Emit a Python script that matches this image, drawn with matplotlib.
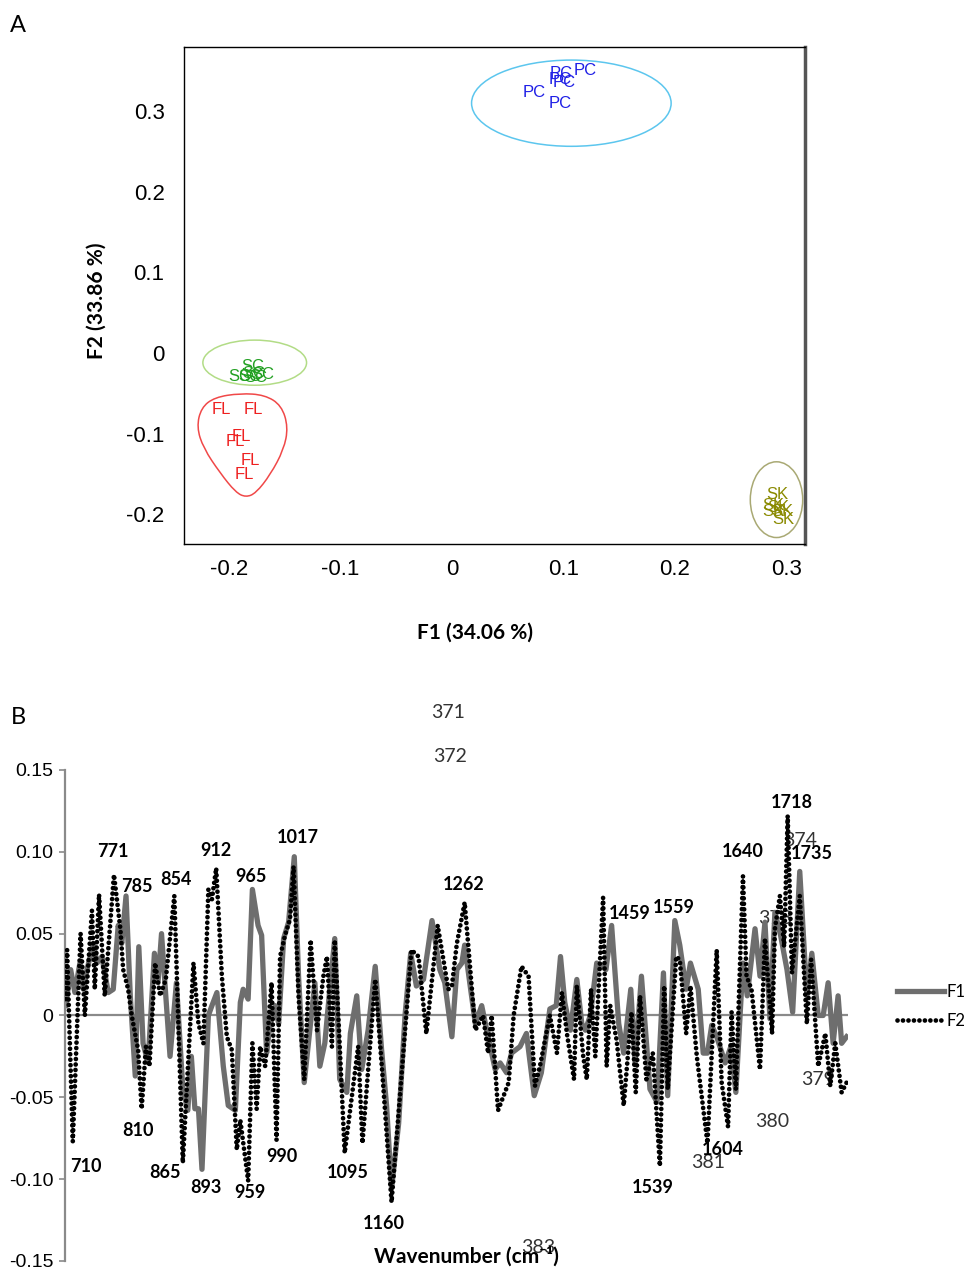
import numpy as np
import matplotlib
matplotlib.use("Agg")
import matplotlib.pyplot as plt
from matplotlib.patches import Ellipse, PathPatch
from matplotlib.path import Path

plt.rcParams['axes.unicode_minus'] = False

# ---------- panel A: PCA scores ----------
pc_x = [0.074, 0.097, 0.119, 0.098, 0.101, 0.097]
pc_y = [0.323, 0.309, 0.350, 0.347, 0.336, 0.340]
sc_x = [-0.179, -0.190, -0.170, -0.181, -0.176, -0.178]
sc_y = [-0.017, -0.029, -0.027, -0.029, -0.031, -0.026]
fl_x = [-0.207, -0.178, -0.189, -0.194, -0.181, -0.186]
fl_y = [-0.070, -0.070, -0.103, -0.110, -0.134, -0.151]
sk_x = [0.292, 0.288, 0.288, 0.296, 0.297, 0.293]
sk_y = [-0.176, -0.189, -0.197, -0.197, -0.207, -0.192]

# confidence ellipses (PC, SC, SK)
ell_cx = [0.107, -0.177, 0.291]
ell_cy = [0.310, -0.012, -0.182]
ell_w = [0.179, 0.093, 0.047]
ell_h = [0.107, 0.056, 0.094]
ell_col = ['#5cc6ee', '#b2dc86', '#a9a974']

# FL hull outline
fl_hull_x = [-0.190, -0.168, -0.153, -0.147, -0.151, -0.163, -0.176, -0.185,
             -0.194, -0.208, -0.223, -0.229, -0.225, -0.213]
fl_hull_y = [-0.050, -0.052, -0.065, -0.092, -0.120, -0.151, -0.174, -0.179,
             -0.173, -0.149, -0.118, -0.092, -0.068, -0.055]

# ---------- panel B: loadings ----------
f2_wn = [701, 703, 711, 722, 728, 738, 742, 748, 756, 769, 778, 782, 789, 794,
         803, 808, 814, 819, 827, 834, 842, 854, 866, 881, 888, 895, 902, 907,
         913, 921, 928, 935, 942, 947, 958, 964, 970, 975, 982, 991, 998, 1003,
         1010, 1017, 1022, 1029, 1037, 1046, 1055, 1064, 1069, 1076, 1080, 1094,
         1113, 1119, 1137, 1148, 1160, 1188, 1198, 1209, 1225, 1240, 1245, 1252,
         1263, 1278, 1289, 1296, 1301, 1310, 1325, 1332, 1343, 1353, 1362, 1369,
         1383, 1393, 1400, 1407, 1417, 1421, 1430, 1435, 1441, 1447, 1458, 1463,
         1468, 1477, 1487, 1498, 1504, 1510, 1519, 1528, 1538, 1544, 1549, 1561,
         1566, 1575, 1581, 1590, 1605, 1618, 1625, 1634, 1639, 1645, 1655, 1660,
         1667, 1679, 1686, 1696, 1700, 1707, 1713, 1718, 1724, 1735, 1745, 1751,
         1761, 1771, 1778, 1785, 1794, 1801]
f2_val = [0.010, 0.040, -0.077, 0.050, 0.000, 0.064, 0.016, 0.074, 0.012, 0.086,
          0.053, 0.028, 0.016, 0.000, -0.021, -0.057, -0.019, -0.031, 0.032, 0.012,
          0.022, 0.073, -0.090, 0.032, -0.005, -0.017, 0.077, 0.071, 0.090, 0.024,
          -0.013, -0.021, -0.082, -0.064, -0.101, -0.017, -0.057, -0.019, -0.031,
          0.020, -0.076, 0.036, 0.049, 0.059, 0.091, 0.012, -0.039, 0.046, -0.009,
          0.024, 0.036, -0.019, 0.046, -0.084, -0.019, -0.078, 0.022, -0.041,
          -0.114, 0.040, 0.036, -0.011, 0.055, 0.016, 0.018, 0.044, 0.069, -0.009,
          0.000, -0.023, 0.000, -0.058, -0.041, 0.000, 0.030, 0.024, -0.043,
          -0.031, 0.000, -0.023, 0.014, -0.011, -0.039, 0.018, -0.025, -0.039,
          0.016, -0.025, 0.072, -0.031, 0.006, -0.015, -0.055, 0.002, -0.047,
          0.012, -0.039, -0.023, -0.092, 0.018, -0.045, 0.036, 0.034, -0.011,
          0.018, -0.025, -0.078, 0.040, -0.041, -0.068, 0.002, -0.045, 0.085,
          0.024, 0.016, -0.033, 0.047, -0.011, 0.053, 0.073, 0.042, 0.122, 0.026,
          0.073, -0.005, 0.034, -0.031, -0.011, -0.043, -0.017, -0.047, -0.041]

f1_wn = [701, 708, 714, 721, 726, 731, 740, 745, 752, 761, 768, 775, 780, 786,
         792, 799, 804, 810, 817, 826, 831, 836, 842, 848, 857, 866, 873, 878,
         883, 888, 893, 902, 907, 914, 923, 930, 940, 947, 951, 958, 964, 972,
         977, 984, 989, 996, 1001, 1008, 1015, 1023, 1029, 1037, 1052, 1059,
         1066, 1073, 1080, 1087, 1097, 1102, 1111, 1118, 1127, 1137, 1146, 1153,
         1160, 1170, 1179, 1187, 1195, 1205, 1217, 1228, 1235, 1245, 1252, 1259,
         1263, 1268, 1278, 1287, 1296, 1306, 1313, 1322, 1329, 1341, 1350, 1361,
         1371, 1383, 1392, 1398, 1404, 1412, 1421, 1428, 1433, 1440, 1449, 1456,
         1462, 1470, 1480, 1487, 1497, 1503, 1512, 1524, 1534, 1543, 1549, 1559,
         1566, 1575, 1581, 1592, 1599, 1605, 1611, 1618, 1630, 1638, 1645, 1655,
         1661, 1672, 1679, 1686, 1693, 1700, 1708, 1717, 1725, 1735, 1745, 1752,
         1761, 1768, 1775, 1782, 1789, 1794, 1801]
f1_val = [0.006, 0.028, 0.014, 0.032, 0.016, 0.028, 0.044, 0.032, 0.036, 0.014,
          0.016, 0.055, 0.044, 0.073, 0.012, -0.037, 0.042, -0.017, -0.029, 0.038,
          0.020, 0.050, 0.012, -0.025, 0.020, -0.045, -0.058, -0.025, -0.057,
          -0.057, -0.094, 0.000, 0.006, 0.014, -0.031, -0.055, -0.058, 0.008,
          0.016, 0.010, 0.077, 0.055, 0.049, -0.023, -0.005, 0.006, -0.005, 0.047,
          0.057, 0.097, 0.024, -0.041, 0.020, -0.031, -0.017, 0.016, 0.047,
          -0.039, -0.047, -0.011, 0.012, -0.033, -0.009, 0.030, -0.021, -0.055,
          -0.106, -0.066, 0.000, 0.038, 0.018, 0.022, 0.058, 0.028, 0.020, -0.013,
          0.028, 0.032, 0.043, 0.027, -0.005, 0.006, -0.013, -0.033, -0.029,
          -0.035, -0.023, -0.019, -0.011, -0.049, -0.035, 0.004, 0.006, 0.036,
          0.008, -0.009, 0.022, -0.005, -0.009, 0.000, 0.032, 0.030, 0.028, 0.055,
          -0.005, -0.023, 0.016, -0.029, 0.024, -0.045, -0.053, 0.026, -0.049,
          0.058, 0.043, 0.016, 0.032, 0.016, -0.023, -0.023, -0.006, -0.013,
          -0.029, -0.019, -0.047, 0.032, 0.012, 0.053, 0.024, 0.057, -0.002,
          0.063, 0.049, 0.028, 0.002, 0.088, 0.012, 0.038, 0.000, 0.000, 0.020,
          -0.017, 0.012, -0.017, -0.013]

# peak labels: (text, wavenumber, value)
peak_labels = [('710', 730, -0.092), ('771', 768, 0.100), ('785', 801, 0.079),
               ('810', 803, -0.070), ('854', 856, 0.083), ('865', 841, -0.096),
               ('893', 899, -0.105), ('912', 913, 0.101), ('959', 961, -0.108),
               ('965', 962, 0.085), ('990', 1006, -0.086), ('1017', 1028, 0.109),
               ('1095', 1099, -0.096), ('1160', 1149, -0.127), ('1262', 1262, 0.080),
               ('1459', 1495, 0.062), ('1559', 1558, 0.066), ('1539', 1528, -0.105),
               ('1604', 1626, -0.082), ('1640', 1654, 0.100), ('1718', 1724, 0.130),
               ('1735', 1752, 0.099)]
stray_labels = [('371', 1240, 0.185), ('372', 1242, 0.158), ('374', 1735, 0.107),
                ('378', 1700, 0.059), ('379', 1761, -0.039), ('380', 1696, -0.065),
                ('381', 1606, -0.090), ('383', 1366, -0.142)]

fig = plt.figure(figsize=(9.64, 12.71), dpi=100)

# ===== Panel A =====
axA = fig.add_axes([0.1909, 0.572, 0.6442, 0.391])
axA.set_xlim(-0.2404, 0.3166)
axA.set_ylim(-0.237, 0.3797)

groups = [(pc_x, pc_y, 'PC', '#1f1fe6'), (sc_x, sc_y, 'SC', '#22a022'),
          (fl_x, fl_y, 'FL', '#ee2020'), (sk_x, sk_y, 'SK', '#8a8a00')]
for xs, ys, lab, col in groups:
    for x, y in zip(xs, ys):
        axA.text(x, y, lab, color=col, fontsize=12, ha='center', va='center',
                 family='Liberation Sans')

for cx, cy, w, h, c in zip(ell_cx, ell_cy, ell_w, ell_h, ell_col):
    axA.add_patch(Ellipse((cx, cy), w, h, fill=False, edgecolor=c, lw=1.1))

# smooth closed outline for FL (quadratic b-spline through midpoints)
pts = np.column_stack([fl_hull_x, fl_hull_y])
n = len(pts)
mids = (pts + np.roll(pts, -1, axis=0)) / 2
verts = [mids[-1]]
codes = [Path.MOVETO]
for i in range(n):
    verts += [pts[i], mids[i]]
    codes += [Path.CURVE3, Path.CURVE3]
axA.add_patch(PathPatch(Path(verts, codes), fill=False, edgecolor='#f04848', lw=1.1))

axA.set_xticks([-0.2, -0.1, 0, 0.1, 0.2, 0.3])
axA.set_xticklabels(['-0.2', '-0.1', '0', '0.1', '0.2', '0.3'])
axA.set_yticks([-0.2, -0.1, 0, 0.1, 0.2, 0.3])
axA.set_yticklabels(['-0.2', '-0.1', '0', '0.1', '0.2', '0.3'])
axA.tick_params(axis='both', length=0, labelsize=16, labelfontfamily='Liberation Sans')
axA.tick_params(axis='x', pad=11)
axA.tick_params(axis='y', pad=14)
for s in ['left', 'bottom', 'top']:
    axA.spines[s].set_linewidth(1.0)
    axA.spines[s].set_color('black')
axA.spines['right'].set_linewidth(2.5)
axA.spines['right'].set_color('#555555')
axA.set_xlabel('F1 (34.06 %)', fontsize=15, fontweight='bold', family='Lato')
axA.set_ylabel('F2 (33.86 %)', fontsize=15, fontweight='bold', family='Lato')
axA.xaxis.set_label_coords(0.4686, -0.159)
axA.yaxis.set_label_coords(-0.125, 0.489)

fig.text(18/964, 1 - 25/1271, 'A', fontsize=17, ha='center', va='center', family='Lato')
fig.text(18/964, 1 - 717/1271, 'B', fontsize=17, ha='center', va='center', family='Lato')

# ===== Panel B =====
axB = fig.add_axes([0.0674, 0.0079, 0.8123, 0.3863])
axB.set_xlim(700, 1803)
axB.set_ylim(-0.15, 0.15)
axB.axhline(0, color='#8a8a8a', lw=1.6, zorder=1)

for txt, w, v in stray_labels:
    axB.text(w, v, txt, fontsize=14, ha='center', va='center', color='#333333',
             family='Lato', zorder=1, clip_on=False)

l1, = axB.plot(f1_wn, f1_val, color='#6e6e6e', lw=3.8, solid_joinstyle='round', zorder=2)
l2, = axB.plot(f2_wn, f2_val, color='black', lw=3.4, linestyle=(0, (0.01, 1.15)),
               dash_capstyle='round', zorder=3)

for txt, w, v in peak_labels:
    axB.text(w, v, txt, fontsize=13, fontweight='bold', ha='center', va='center',
             family='Lato', zorder=4)

axB.text(1265, -0.1475, 'Wavenumber (cm\u207b\u00b9)', fontsize=15, fontweight='bold',
         ha='center', va='center', family=['Lato', 'DejaVu Sans'], clip_on=False)

axB.set_yticks([-0.15, -0.10, -0.05, 0, 0.05, 0.10, 0.15])
axB.set_yticklabels(['-0.15', '-0.10', '-0.05', '0', '0.05', '0.10', '0.15'])
axB.set_xticks([])
axB.tick_params(axis='y', length=4.5, width=1.2, color='#8a8a8a', pad=4,
                labelsize=14, labelfontfamily='Liberation Sans')
for s in ['top', 'right', 'bottom']:
    axB.spines[s].set_visible(False)
axB.spines['left'].set_color('#8a8a8a')
axB.spines['left'].set_linewidth(1.6)

fig.legend([l1, l2], ['F1', 'F2'], loc='upper left', bbox_to_anchor=(0.931, 1 - 984/1271),
           frameon=False, handlelength=2.8, handletextpad=0.15,
           labelspacing=0.8, borderpad=0, borderaxespad=0,
           prop={'family': 'Lato', 'size': 12})

fig.savefig('out.png', dpi=100)
